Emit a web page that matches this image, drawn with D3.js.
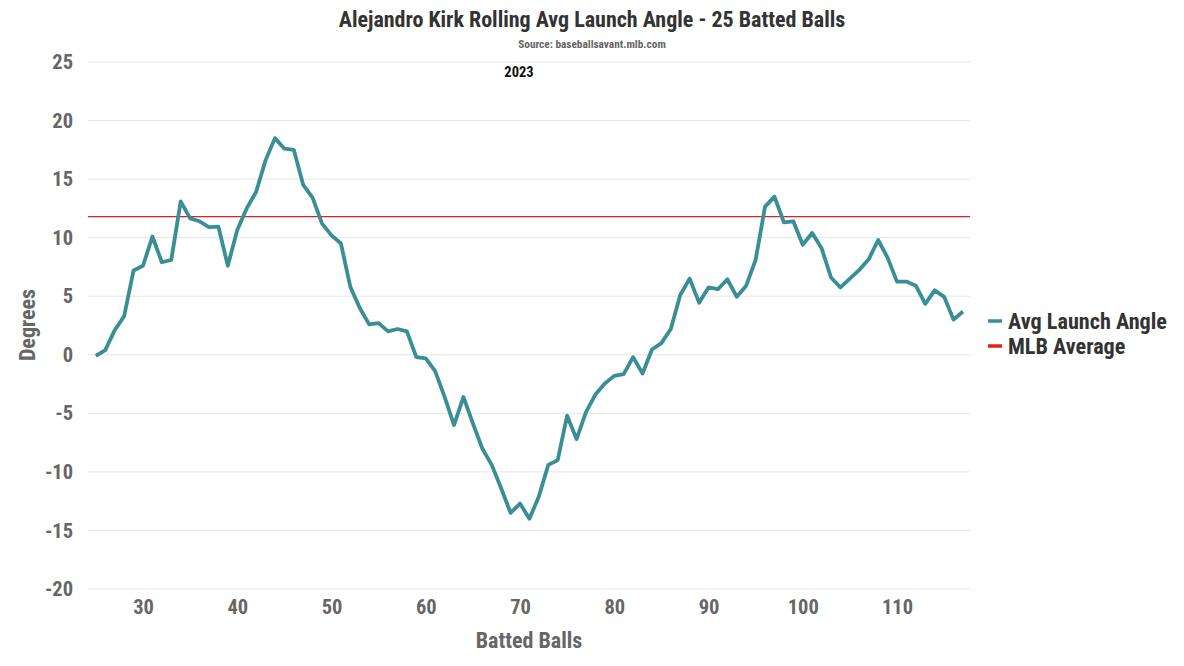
<!DOCTYPE html>
<html><head><meta charset="utf-8">
<script src="https://cdn.jsdelivr.net/npm/d3@7"></script>
<style>
body{margin:0;background:#fff;}
svg text{font-family:"Roboto Condensed","Liberation Sans Narrow","DejaVu Sans Condensed",sans-serif;font-weight:bold;}
</style></head>
<body><svg id="c" width="1184" height="666"></svg>
<script>
const battedBalls = d3.range(25, 118);
const avgLaunchAngle = [
 -0.1,0.4,2.1,3.3,7.2,7.6,10.1,7.9,8.1,13.1,
 11.65,11.4,10.9,10.95,7.6,10.65,12.5,13.9,16.6,18.5,
 17.6,17.5,14.5,13.4,11.2,10.2,9.5,5.8,4.0,2.6,
 2.7,2.0,2.2,2.0,-0.2,-0.3,-1.4,-3.6,-6.0,-3.6,
 -5.85,-8.0,-9.4,-11.4,-13.5,-12.7,-14.0,-12.1,-9.4,-9.0,
 -5.2,-7.2,-4.9,-3.4,-2.45,-1.8,-1.65,-0.2,-1.6,0.45,
 1.0,2.2,5.1,6.5,4.45,5.75,5.6,6.45,4.95,5.9,
 8.1,12.65,13.5,11.3,11.4,9.4,10.4,9.1,6.6,5.75,
 6.5,7.25,8.15,9.8,8.3,6.25,6.25,5.9,4.35,5.5,
 4.95,3.0,3.7
];
const mlbAverage = 11.8;
const xTicks = [30,40,50,60,70,80,90,100,110];
const yTicks = [-20,-15,-10,-5,0,5,10,15,20,25];
const seriesNames = ["Avg Launch Angle","MLB Average"];
const seriesColors = ["#3a8e95","#e0201e"];
const titleText = "Alejandro Kirk Rolling Avg Launch Angle - 25 Batted Balls";
const subtitleText = "Source: baseballsavant.mlb.com";
const yearLabel = "2023";

const svg = d3.select("#c");
const L = 88, R = 970;
const x = d3.scaleLinear().domain([30 - 55/9.425, 110 + 73/9.425]).range([L, R]);
const y = d3.scaleLinear().domain([-20, 25]).range([589, 62]);

// gridlines
svg.append("g").selectAll("line").data(yTicks).join("line")
  .attr("x1", L).attr("x2", R)
  .attr("y1", d => y(d)).attr("y2", d => y(d))
  .attr("stroke", "#e6e6e6").attr("stroke-width", 1);

// y axis labels
const yAxis = svg.append("g").attr("transform", `translate(${L},0)`)
  .call(d3.axisLeft(y).tickValues(yTicks).tickSize(0).tickPadding(15).tickFormat(d => String(d)));
yAxis.select(".domain").remove();
yAxis.selectAll("text").attr("font-size", 20.5).attr("fill", "#666").style("font-family", null);

// x axis labels
const xAxis = svg.append("g").attr("transform", `translate(0,589)`)
  .call(d3.axisBottom(x).tickValues(xTicks).tickSize(0).tickPadding(10).tickFormat(d => String(d)));
xAxis.select(".domain").remove();
xAxis.selectAll("text").attr("font-size", 20.5).attr("fill", "#666");

// MLB average line
svg.append("line").attr("x1", L).attr("x2", R)
  .attr("y1", y(mlbAverage)).attr("y2", y(mlbAverage))
  .attr("stroke", seriesColors[1]).attr("stroke-width", 1.3);

// data line
const data = battedBalls.map((b, i) => [b, avgLaunchAngle[i]]);
svg.append("path").datum(data)
  .attr("fill", "none").attr("stroke", seriesColors[0]).attr("stroke-width", 3.8)
  .attr("stroke-linejoin", "round")
  .attr("d", d3.line().x(d => x(d[0])).y(d => y(d[1])));

// titles
svg.append("text").attr("x", 592).attr("y", 27).attr("text-anchor", "middle")
  .attr("font-size", 22).attr("fill", "#333").text(titleText);
svg.append("text").attr("x", 592).attr("y", 48).attr("text-anchor", "middle")
  .attr("font-size", 11.3).attr("fill", "#666").text(subtitleText);
svg.append("text").attr("x", 519).attr("y", 77).attr("text-anchor", "middle")
  .attr("font-size", 14.5).attr("fill", "#111").text(yearLabel);

// axis titles
svg.append("text").attr("x", 529).attr("y", 648).attr("text-anchor", "middle")
  .attr("font-size", 22).attr("fill", "#666").text("Batted Balls");
svg.append("text").attr("transform", "translate(35,325) rotate(-90)").attr("text-anchor", "middle")
  .attr("font-size", 22).attr("fill", "#666").text("Degrees");

// legend
const lg = svg.append("g").selectAll("g").data(seriesNames).join("g")
  .attr("transform", (d, i) => `translate(988,${321 + i * 25})`);
lg.append("line").attr("x1", 0).attr("x2", 14).attr("y1", 0).attr("y2", 0)
  .attr("stroke", (d, i) => seriesColors[i]).attr("stroke-width", 3.5);
lg.append("text").attr("x", 20).attr("y", 7.5).attr("font-size", 22.2).attr("fill", "#333").text(d => d);
</script></body></html>
